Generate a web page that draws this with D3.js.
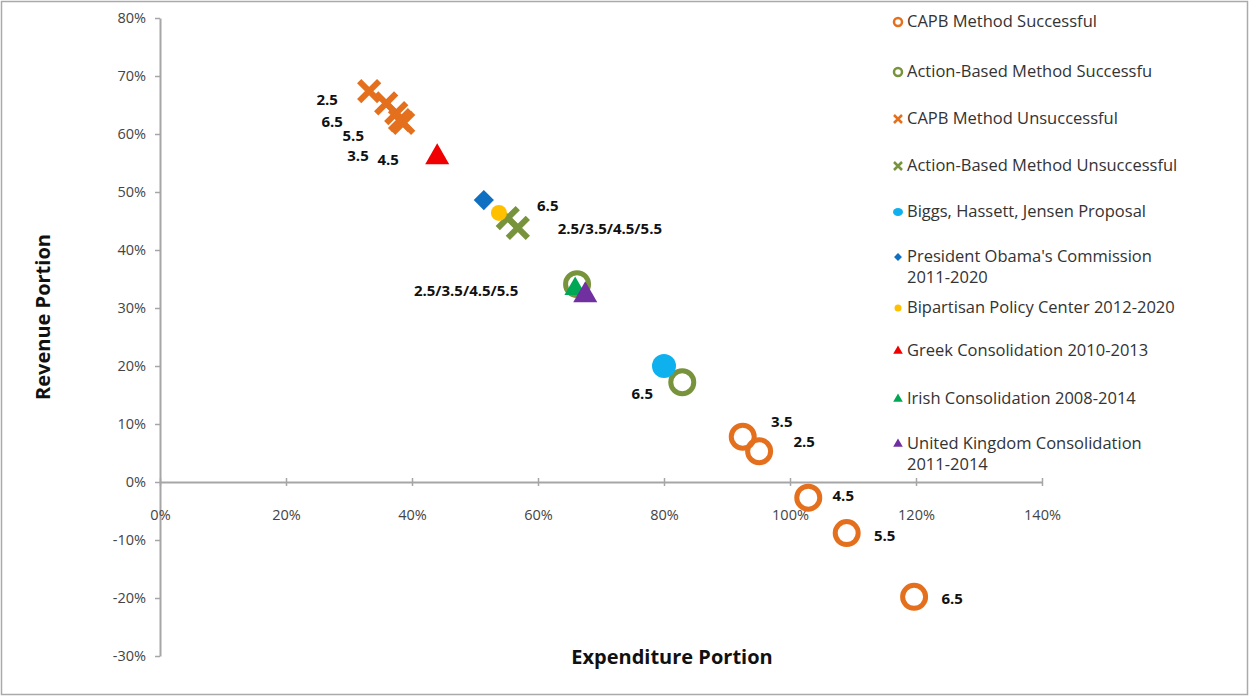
<!DOCTYPE html>
<html>
<head>
<meta charset="utf-8">
<script src="https://cdn.jsdelivr.net/npm/d3@7"></script>
<style>
  body { margin: 0; background: #fff; }
  svg text { font-family: "Open Sans", "Noto Sans", sans-serif; }
</style>
</head>
<body>
<div id="chart"></div>
<script>
// Data (fractions: 0.5 = 50%)
const xTicks = [0, 0.2, 0.4, 0.6, 0.8, 1.0, 1.2, 1.4];
const yTicks = [-0.3, -0.2, -0.1, 0, 0.1, 0.2, 0.3, 0.4, 0.5, 0.6, 0.7, 0.8];

const capbSuccessX = [0.925, 0.951, 1.029, 1.090, 1.197];
const capbSuccessY = [0.078, 0.053, -0.027, -0.088, -0.198];
const capbSuccessLabels = ["3.5", "2.5", "4.5", "5.5", "6.5"];

const abSuccessX = [0.662, 0.829];
const abSuccessY = [0.341, 0.172];
const abSuccessLabels = ["2.5/3.5/4.5/5.5", "6.5"];

const capbFailX = [0.332, 0.359, 0.375, 0.381, 0.386];
const capbFailY = [0.674, 0.653, 0.636, 0.624, 0.619];
const capbFailLabels = ["2.5", "6.5", "5.5", "3.5", "4.5"];

const abFailX = [0.552, 0.568];
const abFailY = [0.455, 0.438];
const abFailLabels = ["6.5", "2.5/3.5/4.5/5.5"];

const biggsX = [0.8], biggsY = [0.2];
const obamaX = [0.514], obamaY = [0.486];
const bipartisanX = [0.538], bipartisanY = [0.464];
const greekX = [0.44], greekY = [0.56];
const irishX = [0.659], irishY = [0.333];
const ukX = [0.675], ukY = [0.322];

const legendNames = [
  ["CAPB Method Successful"],
  ["Action-Based Method Successfu"],
  ["CAPB Method Unsuccessful"],
  ["Action-Based Method Unsuccessful"],
  ["Biggs, Hassett, Jensen Proposal"],
  ["President Obama's Commission", "2011-2020"],
  ["Bipartisan Policy Center 2012-2020"],
  ["Greek Consolidation 2010-2013"],
  ["Irish Consolidation 2008-2014"],
  ["United Kingdom Consolidation", "2011-2014"]
];

// Styling / placement (not data)
const colors = {
  orange: "#E4701E", olive: "#77933C", sky: "#0FB0EE", blue: "#0F6FC0",
  yellow: "#FFC000", red: "#F00000", green: "#00A855", purple: "#7030A0"
};
const labelOffsets = {
  capbSuccess: [[39, -14], [45, -8], [35, -1], [38, 4], [38, 3]],
  abSuccess: [[-111, 8], [-40, 13]],
  capbFail: [[-42, 10], [-54, 20], [-43, 24], [-42, 37], [-15, 38]],
  abFail: [[40, -11], [92, 2]]
};
const pct = d => d3.format(".0%")(d).replace("\u2212", "-");

const width = 1249, height = 696;
const svg = d3.select("#chart").append("svg")
  .attr("width", width).attr("height", height);

svg.append("rect")
  .attr("x", 1.5).attr("y", 1.5)
  .attr("width", width - 3).attr("height", height - 3)
  .attr("fill", "#fff").attr("stroke", "#aaa").attr("stroke-width", 1.5);

const x = d3.scaleLinear().domain([0, 1.4]).range([160, 1042]);
const y = d3.scaleLinear().domain([-0.3, 0.8]).range([656, 18]);

// Y axis
const yAxis = svg.append("g")
  .attr("transform", `translate(${x(0)},0)`)
  .call(d3.axisLeft(y).tickValues(yTicks).tickFormat(pct)
    .tickSizeInner(5).tickSizeOuter(0).tickPadding(9));
yAxis.select(".domain").attr("stroke", "#a6a6a6").attr("stroke-width", 2);
yAxis.selectAll(".tick line").attr("stroke", "#a6a6a6").attr("stroke-width", 1.5);
yAxis.selectAll("text").style("font-size", "14.5px").attr("fill", "#444");

// X axis (crosses at 0%)
const xAxis = svg.append("g")
  .attr("transform", `translate(0,${y(0)})`)
  .call(d3.axisBottom(x).tickValues(xTicks).tickFormat(pct)
    .tickSizeInner(4).tickSizeOuter(0).tickPadding(24));
xAxis.select(".domain").attr("stroke", "#a6a6a6").attr("stroke-width", 2);
xAxis.selectAll(".tick line").attr("stroke", "#a6a6a6").attr("stroke-width", 1.5)
  .attr("y1", -4);
xAxis.selectAll("text").style("font-size", "14.5px").attr("fill", "#444");

// Axis titles
svg.append("text")
  .attr("transform", `translate(45,${317}) rotate(-90)`)
  .attr("text-anchor", "middle").attr("dominant-baseline", "middle")
  .style("font-size", "20px").style("font-weight", "bold").attr("fill", "#111")
  .text("Revenue Portion");
svg.append("text")
  .attr("x", 672).attr("y", 659)
  .attr("text-anchor", "middle").attr("dominant-baseline", "middle")
  .style("font-size", "20px").style("font-weight", "bold").attr("fill", "#111")
  .text("Expenditure Portion");

// marker helpers
function ring(g, xs, ys, color, r, sw) {
  g.selectAll(null).data(xs).join("circle")
    .attr("cx", d => x(d)).attr("cy", (d, i) => y(ys[i]))
    .attr("r", r).attr("fill", "none").attr("stroke", color).attr("stroke-width", sw);
}
function dot(g, xs, ys, color, r) {
  g.selectAll(null).data(xs).join("circle")
    .attr("cx", d => x(d)).attr("cy", (d, i) => y(ys[i]))
    .attr("r", r).attr("fill", color);
}
function cross(g, xs, ys, color, s, sw) {
  g.selectAll(null).data(xs).join("path")
    .attr("d", (d, i) => {
      const cx = x(d), cy = y(ys[i]);
      return `M${cx - s},${cy - s}L${cx + s},${cy + s}M${cx - s},${cy + s}L${cx + s},${cy - s}`;
    })
    .attr("stroke", color).attr("stroke-width", sw).attr("stroke-linecap", "butt");
}
function symbol(g, xs, ys, color, type, size) {
  g.selectAll(null).data(xs).join("path")
    .attr("transform", (d, i) => `translate(${x(d)},${y(ys[i])})`)
    .attr("d", d3.symbol().type(type).size(size)())
    .attr("fill", color);
}
function labels(g, xs, ys, texts, offs) {
  g.selectAll(null).data(xs).join("text")
    .attr("x", (d, i) => x(d) + offs[i][0])
    .attr("y", (d, i) => y(ys[i]) + offs[i][1])
    .attr("text-anchor", "middle").attr("dominant-baseline", "middle")
    .style("font-size", "15px").style("font-weight", "bold").attr("fill", "#111")
    .text((d, i) => texts[i]);
}

const plot = svg.append("g");
ring(plot, capbSuccessX, capbSuccessY, colors.orange, 11.5, 5);
ring(plot, abSuccessX, abSuccessY, colors.olive, 11.5, 5);
cross(plot, capbFailX, capbFailY, colors.orange, 10, 6);
cross(plot, abFailX, abFailY, colors.olive, 10, 6);
dot(plot, biggsX, biggsY, colors.sky, 12);
symbol(plot, obamaX, obamaY, colors.blue, d3.symbolDiamond2, 260);
dot(plot, bipartisanX, bipartisanY, colors.yellow, 8);
symbol(plot, greekX, greekY, colors.red, d3.symbolTriangle, 250);
symbol(plot, irishX, irishY, colors.green, d3.symbolTriangle, 200);
symbol(plot, ukX, ukY, colors.purple, d3.symbolTriangle, 250);

labels(plot, capbSuccessX, capbSuccessY, capbSuccessLabels, labelOffsets.capbSuccess);
labels(plot, abSuccessX, abSuccessY, abSuccessLabels, labelOffsets.abSuccess);
labels(plot, capbFailX, capbFailY, capbFailLabels, labelOffsets.capbFail);
labels(plot, abFailX, abFailY, abFailLabels, labelOffsets.abFail);

// Legend
const legendY = [23, 73, 120, 167, 213, 258, 309, 352, 400, 445];
const legendMarkers = [
  g => g.append("circle").attr("r", 4).attr("fill", "none").attr("stroke", colors.orange).attr("stroke-width", 2.5),
  g => g.append("circle").attr("r", 4).attr("fill", "none").attr("stroke", colors.olive).attr("stroke-width", 2.5),
  g => g.append("path").attr("d", "M-4,-4L4,4M-4,4L4,-4").attr("stroke", colors.orange).attr("stroke-width", 2.5),
  g => g.append("path").attr("d", "M-4,-4L4,4M-4,4L4,-4").attr("stroke", colors.olive).attr("stroke-width", 2.5),
  g => g.append("ellipse").attr("rx", 5).attr("ry", 4).attr("fill", colors.sky),
  g => g.append("path").attr("d", d3.symbol().type(d3.symbolDiamond2).size(40)()).attr("fill", colors.blue),
  g => g.append("circle").attr("r", 3.5).attr("fill", colors.yellow),
  g => g.append("path").attr("d", d3.symbol().type(d3.symbolTriangle).size(40)()).attr("fill", colors.red),
  g => g.append("path").attr("d", d3.symbol().type(d3.symbolTriangle).size(40)()).attr("fill", colors.green),
  g => g.append("path").attr("d", d3.symbol().type(d3.symbolTriangle).size(40)()).attr("fill", colors.purple)
];
const legend = svg.append("g");
legendNames.forEach((lines, i) => {
  const item = legend.append("g").attr("transform", `translate(0,${legendY[i]})`);
  legendMarkers[i](item.append("g").attr("transform", "translate(898,-1)"));
  lines.forEach((t, j) => {
    item.append("text")
      .attr("x", 907).attr("y", j * 21)
      .attr("dominant-baseline", "middle")
      .style("font-size", "16.5px").attr("fill", "#333")
      .text(t);
  });
});
</script>
</body>
</html>
